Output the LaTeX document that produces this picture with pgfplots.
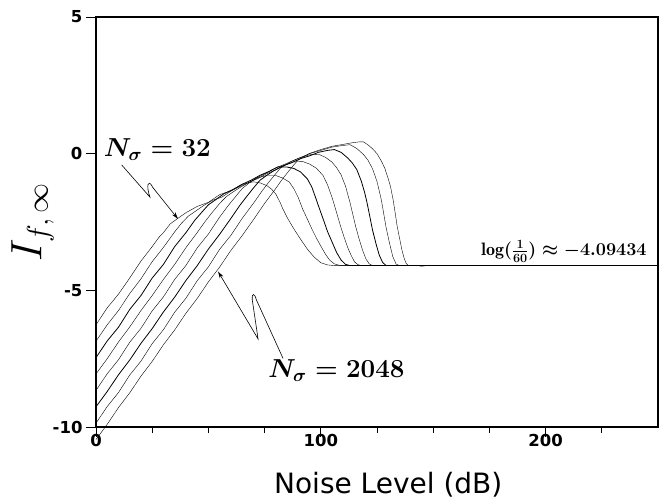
\RequirePackage{fix-cm}
\documentclass[border=0pt]{standalone}
\usepackage{fontspec}
\usepackage{pgfplots}
\pgfplotsset{compat=1.18}
\usetikzlibrary{arrows.meta}
\newfontfamily\dvs{DejaVu Sans}

\begin{document}
\begin{tikzpicture}
\useasboundingbox (-96bp,-75bp) rectangle (564bp,427bp);
\begin{axis}[
  scale only axis, width=562bp, height=410bp,
  xmin=0, xmax=250, ymin=-10, ymax=5,
  clip=false,
  axis line style={line width=2pt},
  xtick={0,100,200}, xticklabels={0,100,200},
  minor xtick={25,50,75,125,150,175,225},
  ytick={-10,-5,0,5}, yticklabels={-10,-5,0,5},
  tick align=outside, xtick pos=bottom, ytick pos=left,
  major tick length=10bp, minor tick length=6bp,
  tick style={line width=0.8pt, black},
  ticklabel style={font=\dvs\bfseries\fontsize{16.5bp}{19bp}\selectfont},
  xticklabel style={yshift=6bp},
  xlabel={Noise Level (dB)},
  ylabel={$I_{\mbox{\fontsize{30bp}{30bp}\selectfont$f,\infty$}}$},
  xlabel style={font=\dvs\fontsize{28bp}{32bp}\selectfont, at={(axis description cs:0.52,-0.161)}, anchor=base},
  ylabel style={font=\fontsize{44bp}{50bp}\selectfont, at={(axis description cs:-0.113,0.5)}, anchor=center},
  cycle list={{black, solid, line width=0.8pt}},
]
% N = 32
\addplot coordinates {(0,-6.26)(5,-5.64)(10,-5.14)(15,-4.55)(20,-3.93)(25,-3.40)(28,-3.06)(30,-2.89)(33,-2.57)(36,-2.39)(40,-2.16)(45,-1.93)(50,-1.78)(55,-1.50)(60,-1.36)(65,-1.12)(70,-1.03)(73,-1.07)(76,-1.17)(78,-1.29)(80,-1.48)(82,-1.80)(83,-2.00)(85,-2.33)(88,-2.75)(91,-3.13)(94,-3.49)(97,-3.78)(100,-3.99)(103,-4.07)(106,-4.0943)(250,-4.0943)};
\addplot coordinates {(0,-6.86)(5,-6.26)(10,-5.74)(15,-5.12)(20,-4.58)(25,-3.95)(30,-3.43)(35,-2.86)(38,-2.55)(41,-2.29)(44,-2.12)(48,-1.89)(52,-1.70)(56,-1.59)(60,-1.37)(64,-1.20)(68,-1.05)(72,-0.88)(76,-0.80)(80,-0.80)(83,-0.89)(86,-1.04)(88,-1.28)(90,-1.61)(92,-2.04)(94,-2.39)(96,-2.75)(98,-3.08)(100,-3.38)(102,-3.67)(104,-3.90)(106,-4.03)(108,-4.08)(110,-4.0943)(250,-4.0943)};
\addplot coordinates {(0,-7.46)(5,-6.85)(10,-6.35)(15,-5.70)(20,-5.19)(25,-4.55)(30,-4.05)(35,-3.40)(40,-2.89)(44,-2.43)(47,-2.15)(50,-1.87)(53,-1.70)(57,-1.46)(61,-1.31)(65,-1.12)(69,-0.97)(73,-0.79)(77,-0.65)(81,-0.48)(85,-0.49)(88,-0.54)(91,-0.67)(94,-0.92)(96,-1.22)(98,-1.68)(99,-1.92)(101,-2.38)(103,-2.85)(105,-3.23)(107,-3.61)(109,-3.89)(111,-4.05)(113,-4.0943)(250,-4.0943)};
\addplot coordinates {(0,-8.06)(5,-7.50)(10,-6.89)(15,-6.34)(20,-5.74)(25,-5.19)(30,-4.60)(35,-4.05)(40,-3.44)(45,-2.89)(49,-2.43)(52,-2.12)(55,-1.82)(58,-1.57)(61,-1.40)(64,-1.24)(68,-1.05)(72,-0.91)(76,-0.73)(80,-0.59)(84,-0.42)(88,-0.30)(92,-0.29)(95,-0.38)(98,-0.53)(101,-0.80)(103,-1.14)(105,-1.60)(106,-1.87)(107.5,-2.29)(109,-2.71)(110.5,-3.09)(112,-3.44)(113.5,-3.72)(115,-3.96)(116.5,-4.06)(118,-4.0943)(250,-4.0943)};
\addplot coordinates {(0,-8.66)(5,-8.05)(10,-7.54)(15,-6.90)(20,-6.39)(25,-5.75)(30,-5.24)(35,-4.60)(40,-4.09)(45,-3.45)(50,-2.94)(55,-2.32)(59,-1.88)(62,-1.58)(65,-1.28)(68,-1.08)(71,-0.91)(75,-0.74)(80,-0.52)(85,-0.35)(90,-0.17)(95,-0.04)(99,-0.02)(102,-0.13)(105,-0.31)(107,-0.51)(109,-0.77)(111,-1.19)(112,-1.49)(113,-1.79)(114,-2.14)(115.5,-2.66)(117,-3.11)(118.5,-3.51)(120,-3.84)(121.5,-4.03)(123,-4.0943)(250,-4.0943)};
\addplot coordinates {(0,-9.26)(5,-8.70)(10,-8.09)(15,-7.55)(20,-6.94)(25,-6.40)(30,-5.79)(35,-5.25)(40,-4.64)(45,-4.10)(50,-3.49)(55,-2.95)(60,-2.37)(64,-1.89)(67,-1.57)(70,-1.26)(73,-0.97)(76,-0.79)(79,-0.63)(83,-0.45)(87,-0.33)(91,-0.18)(95,-0.08)(99,0.05)(103,0.12)(106,0.15)(109,0.05)(112,-0.16)(114,-0.34)(116,-0.58)(118,-1.00)(119.5,-1.42)(120.5,-1.77)(121.5,-2.17)(123,-2.79)(124.5,-3.28)(126,-3.71)(127.5,-3.98)(129,-4.09)(130,-4.0943)(250,-4.0943)};
\addplot coordinates {(0,-9.86)(5,-9.25)(10,-8.74)(15,-8.10)(20,-7.59)(25,-6.95)(30,-6.44)(35,-5.80)(40,-5.29)(45,-4.65)(50,-4.14)(55,-3.50)(60,-2.99)(65,-2.37)(70,-1.82)(74,-1.35)(77,-1.03)(80,-0.73)(82,-0.53)(84,-0.43)(87,-0.28)(91,-0.14)(95,0.00)(100,0.12)(105,0.24)(109,0.29)(113,0.33)(116,0.19)(119,-0.03)(121,-0.24)(123,-0.55)(125,-1.02)(126,-1.36)(127,-1.72)(128,-2.20)(129,-2.68)(130.5,-3.25)(132,-3.76)(133.5,-4.04)(135,-4.0943)(250,-4.0943)};
% N = 2048
\addplot coordinates {(0,-10.46)(5,-9.90)(10,-9.29)(15,-8.75)(20,-8.14)(25,-7.60)(30,-6.99)(35,-6.45)(40,-5.84)(45,-5.30)(50,-4.69)(55,-4.15)(60,-3.54)(65,-3.00)(70,-2.42)(75,-1.82)(80,-1.27)(83,-0.92)(86,-0.61)(88,-0.41)(90,-0.23)(92,-0.13)(95,0.01)(100,0.15)(105,0.27)(110,0.34)(114,0.40)(117,0.43)(119,0.43)(121,0.32)(123,0.18)(125,0.00)(127,-0.28)(128.5,-0.54)(130,-0.92)(131,-1.20)(132.2,-1.70)(133,-2.12)(134,-2.67)(135,-3.08)(136,-3.49)(137,-3.81)(138,-4.02)(139,-4.09)(140,-4.0943)(143,-4.0943)(145,-4.12)(147,-4.0943)(250,-4.0943)};

\node[font=\boldmath\fontsize{26bp}{30bp}\selectfont, anchor=center] at (axis cs:27.3,0.15) {$N_\sigma = 32$};
\node[font=\boldmath\fontsize{26bp}{30bp}\selectfont, anchor=center] at (axis cs:107,-7.95) {$N_\sigma = 2048$};
\node[font=\boldmath\fontsize{18bp}{22bp}\selectfont, anchor=base east, inner sep=0pt] at (axis cs:245,-3.74) {$\log(\frac{1}{60}) \approx -4.09434$};
\draw[line width=0.6pt, -{Stealth[length=7bp,width=4bp]}] (axis cs:11.4,-0.41) -- (axis cs:24.0,-1.59) .. controls (axis cs:22.2,-1.17) and (axis cs:23.1,-0.88) .. (axis cs:25.3,-1.24) -- (axis cs:36.5,-2.39);
\draw[line width=0.6pt, -{Stealth[length=7bp,width=4bp]}] (axis cs:83.2,-7.49) -- (axis cs:71.3,-5.34) .. controls (axis cs:70.6,-5.1) and (axis cs:69.3,-5.08) .. (axis cs:69.5,-5.34) -- (axis cs:72.1,-6.78) -- (axis cs:54.3,-4.31);
\end{axis}
\end{tikzpicture}
\end{document}
